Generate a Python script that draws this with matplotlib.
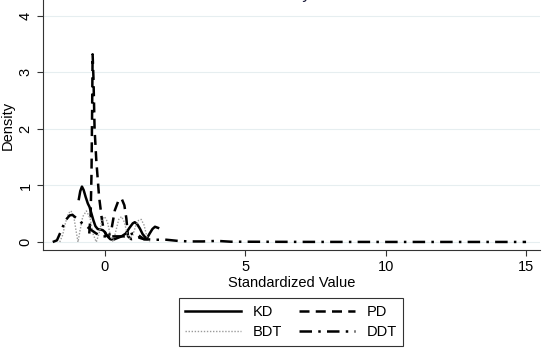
import matplotlib
matplotlib.use("Agg")
import matplotlib.pyplot as plt

plt.rcParams["font.family"] = ["Liberation Sans", "DejaVu Sans"]

# KD (solid)
kd_x = [-0.92, -0.87, -0.81, -0.75, -0.68, -0.6, -0.54, -0.47, -0.4, -0.33, -0.25, -0.15, -0.07, 0.0, 0.1, 0.2, 0.3,
        0.45, 0.6, 0.75, 0.88, 1.0, 1.07, 1.15, 1.25, 1.35, 1.45, 1.52, 1.6, 1.7, 1.79, 1.9]
kd_y = [0.76, 0.9, 0.98, 0.92, 0.8, 0.68, 0.62, 0.5, 0.38, 0.28, 0.23, 0.22, 0.21, 0.18, 0.1, 0.05, 0.04,
        0.07, 0.1, 0.15, 0.25, 0.33, 0.35, 0.32, 0.24, 0.14, 0.08, 0.08, 0.15, 0.23, 0.27, 0.25]

# PD (dashed)
pd_x = [-0.55, -0.5, -0.47, -0.45, -0.43, -0.4, -0.36, -0.3, -0.2, -0.1, -0.05, 0.05, 0.15, 0.25, 0.36, 0.48, 0.6,
        0.7, 0.77, 0.83, 0.95, 1.2, 1.4, 1.6]
pd_y = [0.15, 0.5, 1.2, 2.2, 3.32, 2.9, 2.0, 1.45, 0.8, 0.4, 0.25, 0.12, 0.1, 0.25, 0.56, 0.72, 0.77,
        0.65, 0.42, 0.1, 0.05, 0.08, 0.05, 0.05]

# BDT (dotted)
bdt_x = [-1.6, -1.5, -1.4, -1.3, -1.2, -1.1, -1.02, -0.95, -0.88, -0.78, -0.65, -0.52, -0.42, -0.3, -0.2, -0.1, 0.0,
         0.1, 0.2, 0.3, 0.4, 0.5, 0.6, 0.7, 0.8, 0.9, 1.0, 1.1, 1.2, 1.3, 1.4, 1.5, 1.6]
bdt_y = [0.0, 0.12, 0.33, 0.5, 0.55, 0.45, 0.2, 0.0, 0.2, 0.45, 0.55, 0.42, 0.15, 0.0, 0.15, 0.38, 0.45,
         0.35, 0.12, 0.0, 0.2, 0.4, 0.45, 0.35, 0.15, 0.05, 0.12, 0.28, 0.38, 0.4, 0.3, 0.1, 0.0]

# DDT (dash-dot)
ddt_x = [-1.85, -1.7, -1.55, -1.4, -1.25, -1.15, -1.0, -0.85, -0.7, -0.5, -0.3, -0.1, 0.1, 0.4, 0.7, 1.0, 1.2, 1.4,
         1.8, 2.2, 2.6, 3.0, 3.5, 4.0, 4.5, 5.0, 7.0, 10.0, 12.0, 15.0]
ddt_y = [0.0, 0.03, 0.2, 0.38, 0.47, 0.48, 0.42, 0.35, 0.3, 0.22, 0.15, 0.1, 0.1, 0.1, 0.1, 0.15, 0.12, 0.05,
         0.04, 0.04, 0.02, 0.01, 0.01, 0.02, 0.005, 0.005, 0.002, 0.001, 0.001, 0.001]

xticks = [0, 5, 10, 15]
yticks = [0, 1, 2, 3, 4]

fig = plt.figure(figsize=(5.5, 3.54), dpi=100)
ax = fig.add_axes([0.078, 0.294, 0.904, 0.706])

for yv in yticks:
    ax.axhline(yv, color="#e6eef0", lw=0.8, zorder=0)

l_kd, = ax.plot(kd_x, kd_y, color="black", lw=1.8, ls="-", label="KD")
l_pd, = ax.plot(pd_x, pd_y, color="black", lw=1.8, ls=(0, (4, 2.5)), label="PD")
l_bdt, = ax.plot(bdt_x, bdt_y, color="#9a9a9a", lw=1.0, ls=(0, (1, 1.2)), label="BDT")
l_ddt, = ax.plot(ddt_x, ddt_y, color="black", lw=1.8, ls=(0, (5, 2.5, 1, 2.5)), label="DDT")

ax.set_xlim(-2.2, 15.5)
ax.set_ylim(-0.14, 4.28)
ax.set_xticks(xticks)
ax.set_yticks(yticks)
ax.set_yticklabels([str(v) for v in yticks], rotation=90, va="center")
ax.tick_params(axis="both", labelsize=10.5, length=4, width=0.8, color="#333333")
ax.spines["top"].set_visible(False)
ax.spines["right"].set_visible(False)
ax.spines["left"].set_color("#333333")
ax.spines["bottom"].set_color("#333333")
ax.set_ylabel("Density", fontsize=10.5, labelpad=3)
ax.set_xlabel("Standardized Value", fontsize=10.5, labelpad=1)

fig.text(0.53, 1.0 + 1.5 / 354, "Kernel density estimate", ha="center", va="baseline", fontsize=12, color="#1e1e3c")

leg = fig.legend([l_kd, l_bdt, l_pd, l_ddt], ["KD", "BDT", "PD", "DDT"],
                 loc="center", bbox_to_anchor=(291 / 550, 1 - 322 / 354), ncol=2, fontsize=10.5,
                 frameon=True, fancybox=False, edgecolor="black", handlelength=3.8,
                 columnspacing=1.2, labelspacing=0.45, borderpad=0.45, handletextpad=0.8)
leg.get_frame().set_linewidth(0.8)

fig.savefig("out.png", dpi=100)
